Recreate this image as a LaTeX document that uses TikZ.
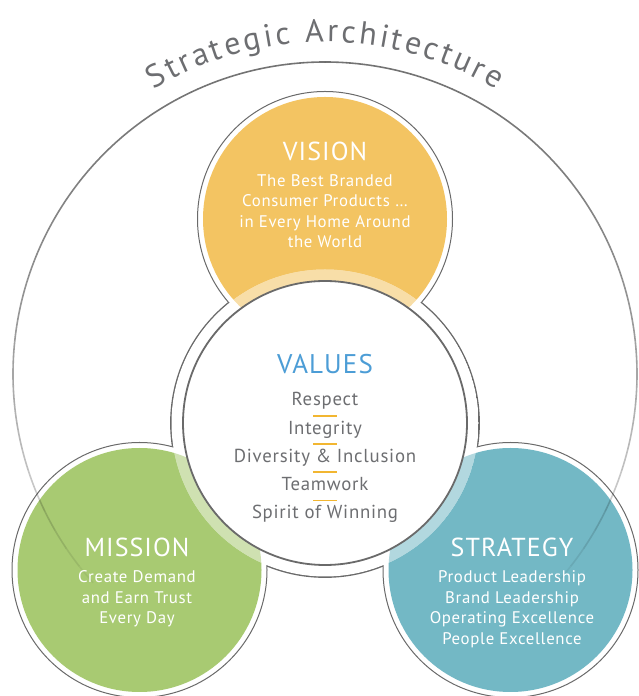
\documentclass[tikz,border=0pt]{standalone}
\usepackage{fontspec}
\setmainfont{PT Sans}
\newfontfamily\spaced[LetterSpace=4]{PT Sans}
\usetikzlibrary{decorations.text}
\definecolor{visyellow}{HTML}{F3C462}
\definecolor{misgreen}{HTML}{A8CA72}
\definecolor{strteal}{HTML}{73B8C5}
\definecolor{valblue}{HTML}{4C9DD6}
\definecolor{txtgray}{HTML}{6D6E71}
\definecolor{ringgray}{HTML}{6A6A6A}
\definecolor{sepyellow}{HTML}{F2B631}

\begin{document}
\begin{tikzpicture}[x=0.5pt, y=0.5pt,
        ring/.style={draw=ringgray, line width=0.5pt},
        valring/.style={draw=ringgray, line width=0.9pt},
        head/.style={text=white, anchor=base, font=\spaced\fontsize{13}{13}\selectfont},
        body/.style={text=white, anchor=base, font=\spaced\fontsize{8.4}{10}\selectfont},
        item/.style={text=txtgray, anchor=base, font=\spaced\fontsize{9.4}{10}\selectfont},
        sepline/.style={draw=sepyellow, line width=0.7pt}]
      \useasboundingbox (0,0) rectangle (638,696);
      \coordinate (big) at (325,322);
      \coordinate (vis) at (325,477);
      \coordinate (val) at (325,273);
      \coordinate (mis) at (139.5,126);
      \coordinate (str) at (510.5,126);
      % circles
      \draw[valring] (val) circle[radius=154];
      \foreach \c/\col in {vis/visyellow, mis/misgreen, str/strteal} {
        \fill[white] (\c) circle[radius=127.5];
        \draw[ring] (\c) circle[radius=127.5];
        \fill[\col] (\c) circle[radius=122];
      }
      \begin{scope}
        \clip (val) circle[radius=153.5];
        \fill[white] (val) circle[radius=154];
        \foreach \c/\col in {vis/visyellow, mis/misgreen, str/strteal}
          \fill[\col, opacity=0.55] (\c) circle[radius=122];
      \end{scope}
      \filldraw[fill=white, valring] (val) circle[radius=142];
      % outer arc, fading downwards
      \foreach \a in {-42,-38,...,218} {
        \pgfmathsetmacro\op{max(0.03, 0.55*(1-(abs(\a+2-90)/135)^2.5))}
        \draw[line width=0.8pt, draw=black, draw opacity=\op]
          ([shift={(\a:312)}]big) arc[start angle=\a, end angle=\a+4, radius=312];
      }
      \path[decorate, decoration={text along path, text align={fit to path},
          text={|\color{txtgray}\fontsize{16}{16}\selectfont|Strategic Architecture}}]
        ([shift={(121:332)}]big) arc[start angle=121, end angle=59, radius=332];
      % texts
      \node[head] (vision) at (325,535.3) {VISION};
      \foreach \t [count=\i] in {The Best Branded, Consumer Products \ldots,
          in Every Home Around, the World}
        \node[body] (vision\i) at (325,{509.3-20.2*(\i-1)}) {\t};
      \node[head, text=valblue, font=\spaced\fontsize{13.5}{13.5}\selectfont] (values) at (325,322.7) {VALUES};
      \foreach \t [count=\i] in {Respect, Integrity, Diversity \& Inclusion, Teamwork, Spirit of Winning}
        \node[item] (value\i) at (325,{290-28.1*(\i-1)}) {\t};
      \foreach \i in {1,...,4}
        \draw[sepline] (value\i.base) ++(-12,-10) -- ++(24,0);
      \node[head] (mission) at (137,139.3) {MISSION};
      \foreach \t [count=\i] in {Create Demand, and Earn Trust, Every Day}
        \node[body] (mission\i) at (137,{113.3-20.6*(\i-1)}) {\t};
      \node[head] (strategy) at (512,139.3) {STRATEGY};
      \foreach \t [count=\i] in {Product Leadership, Brand Leadership,
          Operating Excellence, People Excellence}
        \node[body] (strategy\i) at (512,{113.3-20.6*(\i-1)}) {\t};
    \end{tikzpicture}
\end{document}
